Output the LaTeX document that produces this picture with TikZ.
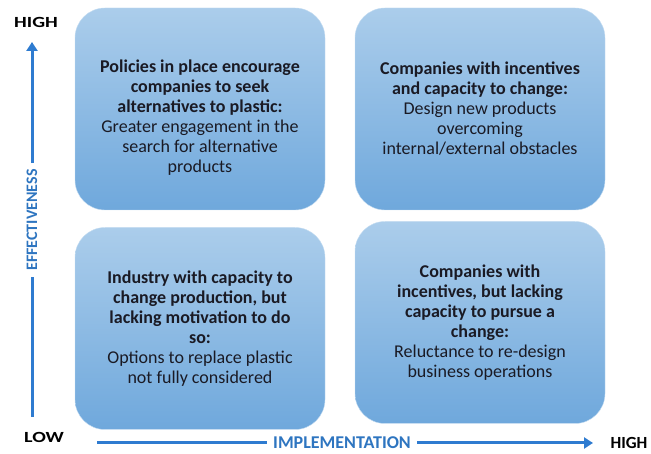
\documentclass[tikz,border=0pt]{standalone}
\usepackage{fontspec}
\setmainfont{Carlito}
\newfontfamily\widefont[FakeStretch=1.3]{Carlito}
\usetikzlibrary{arrows.meta}
\definecolor{boxtop}{HTML}{ABCDEB}
\definecolor{boxbottom}{HTML}{6FA8DC}
\definecolor{axisblue}{HTML}{2E7BD0}
\definecolor{labelblue}{HTML}{2E75C0}
\definecolor{boxtext}{HTML}{1A1A24}
\tikzset{
  quadrant/.style={rounded corners=30pt, top color=boxtop, bottom color=boxbottom,
    draw=boxtop!70!white, line width=0.4pt, minimum width=250pt, minimum height=202pt,
    align=center, text=boxtext, font=\fontsize{18}{20}\selectfont},
  axisline/.style={draw=axisblue, line width=3pt},
  axislabel/.style={text=labelblue, inner sep=6pt},
  endlabel/.style={font=\widefont\fontsize{15.5}{18}\selectfont\bfseries}
}
\begin{document}
\begin{tikzpicture}[x=1pt,y=1pt]
\useasboundingbox (0,0) rectangle (651,454);

\node[quadrant] (tl) at (200,345) {\rule{0pt}{30pt}\textbf{Policies in place encourage}\\\textbf{companies to seek}\\\textbf{alternatives to plastic:}\\Greater engagement in the\\search for alternative\\products};
\node[quadrant] (tr) at (480,345) {\textbf{Companies with incentives}\\\textbf{and capacity to change:}\\Design new products\\overcoming\\internal/external obstacles};
\node[quadrant] (bl) at (200,125.5) {\textbf{Industry with capacity to}\\\textbf{change production, but}\\\textbf{lacking motivation to do}\\\textbf{so:}\\Options to replace plastic\\not fully considered};
\node[quadrant] (br) at (480,131.5) {\textbf{Companies with}\\\textbf{incentives, but lacking}\\\textbf{capacity to pursue a}\\\textbf{change:}\\Reluctance to re-design\\business operations};

% effectiveness axis
\coordinate (vbot) at (32,37);
\coordinate (vtop) at (32,412);
\node[axislabel, rotate=90, font=\fontsize{16}{18}\selectfont\bfseries] (eff) at (32,234) {EFFECTIVENESS};
\draw[axisline] (vbot) -- (eff.west);
\draw[axisline, -{Triangle[width=11pt,length=9pt]}] (eff.east) -- (vtop);
\node[endlabel] (high1) at (36,432) {HIGH};
\node[endlabel] (low) at (44,17) {LOW};

% implementation axis
\coordinate (hstart) at (97,11);
\coordinate (htip) at (593,11);
\node[axislabel, font=\fontsize{18}{20}\selectfont\bfseries] (impl) at (342,11) {IMPLEMENTATION};
\draw[axisline] (hstart) -- (impl.west);
\draw[axisline, -{Triangle[width=11pt,length=9pt]}] (impl.east) -- (htip);
\node[font=\fontsize{17}{18}\selectfont\bfseries, inner sep=1pt] (high2) at (629,11) {HIGH};
\end{tikzpicture}
\end{document}
